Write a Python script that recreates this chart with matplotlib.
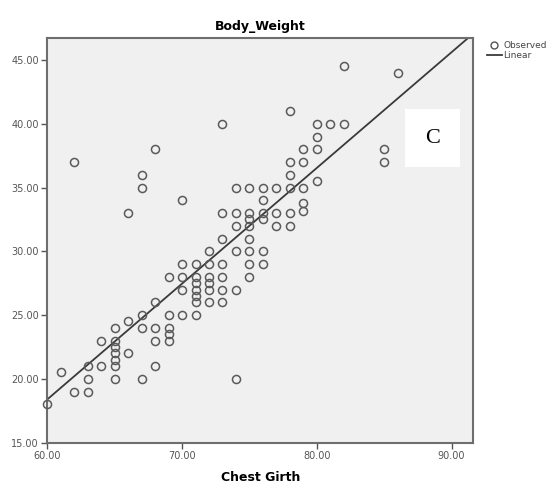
import matplotlib
matplotlib.use("Agg")
import matplotlib.pyplot as plt
from matplotlib.lines import Line2D
from matplotlib.patches import Rectangle

chest_girth = [60, 61, 62, 62, 63, 63, 63,
               64, 64,
               65, 65, 65, 65, 65, 65, 65,
               66, 66, 66,
               67, 67, 67, 67, 67,
               68, 68, 68, 68, 68,
               69, 69, 69, 69, 69,
               70, 70, 70, 70, 70,
               71, 71, 71, 71, 71, 71, 71,
               72, 72, 72, 72, 72, 72,
               73, 73, 73, 73, 73, 73, 73,
               74, 74, 74, 74, 74, 74,
               75, 75, 75, 75, 75, 75, 75, 75,
               76, 76, 76, 76, 76, 76,
               77, 77, 77,
               78, 78, 78, 78, 78, 78,
               79, 79, 79, 79, 79,
               80, 80, 80, 80,
               81,
               82, 82,
               85, 85,
               86]
body_weight = [18, 20.5, 19, 37, 19, 20, 21,
               21, 23,
               20, 21, 21.5, 22, 22.5, 23, 24,
               22, 24.5, 33,
               20, 24, 25, 35, 36,
               21, 23, 24, 26, 38,
               23, 23.5, 24, 25, 28,
               25, 27, 28, 29, 34,
               25, 26, 26.5, 27, 27.5, 28, 29,
               26, 27, 27.5, 28, 29, 30,
               26, 27, 28, 29, 31, 33, 40,
               20, 27, 30, 32, 33, 35,
               28, 29, 30, 31, 32, 32.5, 33, 35,
               29, 30, 32.5, 33, 34, 35,
               32, 33, 35,
               32, 33, 35, 36, 37, 41,
               33.2, 33.8, 35, 37, 38,
               35.5, 38, 39, 40,
               40,
               40, 44.5,
               37, 38,
               44]

fit_intercept = -36.1
fit_slope = 0.908

x_ticks = [60, 70, 80, 90]
y_ticks = [15, 20, 25, 30, 35, 40, 45]

fig = plt.figure(figsize=(5.56, 4.86), dpi=100)
ax = fig.add_axes([0.085, 0.0895, 0.766, 0.8325])
ax.set_facecolor("#f0f0f0")

x_min, x_max = 60, 91.6
y_min, y_max = 15, 46.74

ax.plot(chest_girth, body_weight, linestyle="none", marker="o", markersize=5.8,
        markerfacecolor="none", markeredgecolor="#5a5a5a", markeredgewidth=1.1,
        zorder=3, clip_on=False)

lx = [x_min, x_max]
ly = [fit_intercept + fit_slope * v for v in lx]
ax.plot(lx, ly, color="#3a3a3a", linewidth=1.3, zorder=2)

ax.set_xlim(x_min, x_max)
ax.set_ylim(y_min, y_max)
ax.set_xticks(x_ticks)
ax.set_yticks(y_ticks)
ax.set_xticklabels([f"{v:.2f}" for v in x_ticks])
ax.set_yticklabels([f"{v:.2f}" for v in y_ticks])
ax.tick_params(axis="both", direction="out", length=4, width=1, color="#555555",
               labelsize=7, labelcolor="#555555", pad=2)
for s in ax.spines.values():
    s.set_color("#6e6e6e")
    s.set_linewidth(1.5)

ax.set_title("Body_Weight", fontsize=9, fontweight="bold", pad=6)
ax.set_xlabel("Chest Girth", fontsize=9, fontweight="bold", labelpad=7)

# white box with label C
ax.add_patch(Rectangle((0.84, 0.68), 0.13, 0.145, transform=ax.transAxes,
                       facecolor="white", edgecolor="none", zorder=4))
ax.text(0.905, 0.7525, "C", transform=ax.transAxes, ha="center", va="center",
        fontsize=16, family="Liberation Serif", zorder=5)

handles = [Line2D([], [], linestyle="none", marker="o", markersize=5,
                  markerfacecolor="none", markeredgecolor="#555555"),
           Line2D([], [], color="#3a3a3a", linewidth=1.3)]
fig.legend(handles, ["Observed", "Linear"], loc="upper left",
           bbox_to_anchor=(0.868, 0.925), frameon=False, fontsize=6.5,
           handlelength=1.6, handletextpad=0.2, labelspacing=0.1, borderpad=0,
           labelcolor="#444444")

fig.savefig("out.png", dpi=100)
